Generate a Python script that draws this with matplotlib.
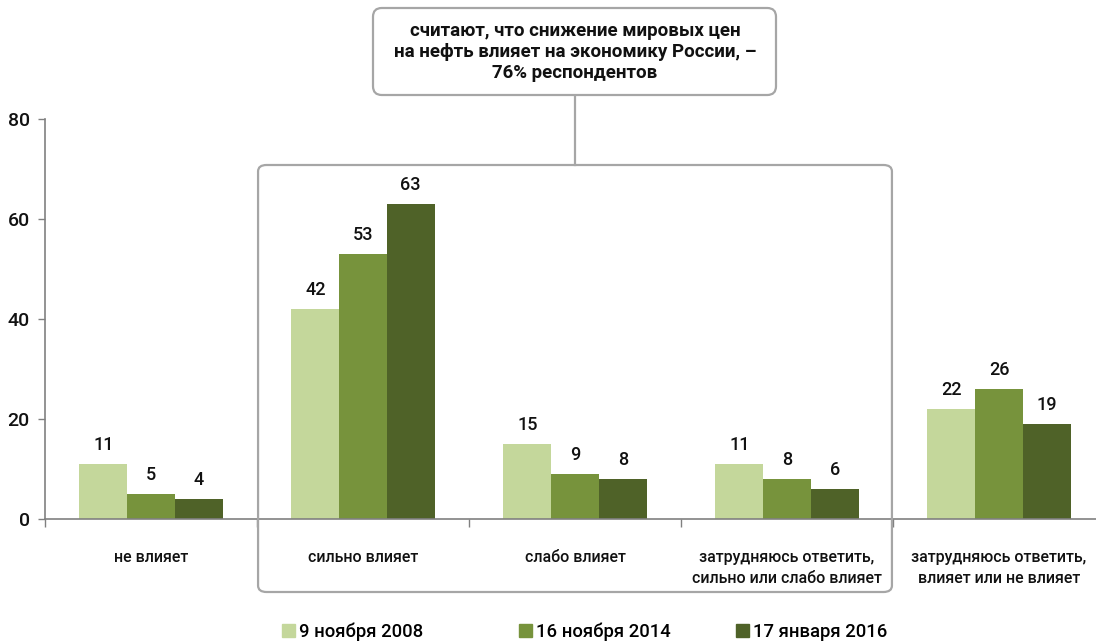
import matplotlib
matplotlib.use("Agg")
import matplotlib.pyplot as plt
import numpy as np
from matplotlib.patches import FancyBboxPatch
from matplotlib.lines import Line2D
import matplotlib.transforms as mtransforms

plt.rcParams['font.family'] = ['Roboto', 'DejaVu Sans']
plt.rcParams['font.weight'] = 'medium'

categories = ["не влияет", "сильно влияет", "слабо влияет",
              "затрудняюсь ответить,\nсильно или слабо влияет",
              "затрудняюсь ответить,\nвлияет или не влияет"]
series_names = ["9 ноября 2008", "16 ноября 2014", "17 января 2016"]
values_2008 = [11, 42, 15, 11, 22]
values_2014 = [5, 53, 9, 8, 26]
values_2016 = [4, 63, 8, 6, 19]
yticks = [0, 20, 40, 60, 80]
callout_text = "считают, что снижение мировых цен\nна нефть влияет на экономику России, –\n76% респондентов"

colors = ["#c4d79b", "#77933c", "#4f6228"]
grey = "#a6a6a6"
ink = "#111111"

W, H = 1096, 643
fig = plt.figure(figsize=(W / 100, H / 100), dpi=100)
ax = fig.add_axes([45 / W, (H - 519) / H, 1060 / W, 400 / H])

x = np.arange(len(categories))
bw = 0.225
for i, (vals, c, name) in enumerate(zip([values_2008, values_2014, values_2016], colors, series_names)):
    bars = ax.bar(x + (i - 1) * bw, vals, width=bw, color=c, label=name, zorder=2)
    ax.bar_label(bars, labels=[str(v) for v in vals], padding=7, fontsize=13, color=ink)

ax.set_xlim(-0.5, len(categories) - 0.5)
ax.set_ylim(0, 80)
ax.set_yticks(yticks)
ax.tick_params(axis="y", length=5, width=1, color="#808080", labelsize=14, pad=6, labelcolor=ink)

ax.set_xticks(x)
ax.set_xticklabels(categories, fontsize=11.5, linespacing=1.55, color=ink)
ax.tick_params(axis="x", which="major", length=0, pad=22)
ax.set_xticks(np.arange(-0.5, len(categories), 1.0), minor=True)
ax.tick_params(axis="x", which="minor", length=6, width=1, color="#808080", direction="out")

for s in ["top", "right"]:
    ax.spines[s].set_visible(False)
for s in ["left", "bottom"]:
    ax.spines[s].set_color("#808080")
    ax.spines[s].set_linewidth(1.2)

# group frame around the "influences" answers
trans = mtransforms.blended_transform_factory(ax.transData, fig.transFigure)
frame = FancyBboxPatch((0.505, (H - 592) / H), 2.99, (592 - 165) / H,
                       boxstyle="round,pad=0,rounding_size=0.04",
                       transform=trans, fill=False, edgecolor=grey, linewidth=1.6,
                       mutation_aspect=0.25, clip_on=False, zorder=1)
fig.add_artist(frame)

# callout box
cb = FancyBboxPatch((373 / W, (H - 95) / H), (776 - 373) / W, (95 - 8) / H,
                    boxstyle="round,pad=0,rounding_size=0.008",
                    transform=fig.transFigure, fill=True, facecolor="white",
                    edgecolor=grey, linewidth=1.6, mutation_aspect=W / H, zorder=3)
fig.add_artist(cb)
fig.add_artist(Line2D([575 / W, 575 / W], [(H - 95) / H, (H - 165) / H],
                      transform=fig.transFigure, color=grey, linewidth=1.6))
fig.text(575 / W, (H - 52) / H, callout_text, ha="center", va="center",
         fontsize=13.5, fontweight="bold", linespacing=1.25, color=ink)

# legend entries, one per series
legend_x = [282, 519, 736]
for name, c, lx in zip(series_names, colors, legend_x):
    leg = fig.legend([plt.Rectangle((0, 0), 1, 1, color=c)], [name], loc="center left",
                     bbox_to_anchor=(lx / W, (H - 632) / H), frameon=False, fontsize=13.3,
                     handlelength=0.7, handleheight=0.7, handletextpad=0.2,
                     borderpad=0, borderaxespad=0)

fig.savefig("out.png", dpi=100, facecolor="white")
